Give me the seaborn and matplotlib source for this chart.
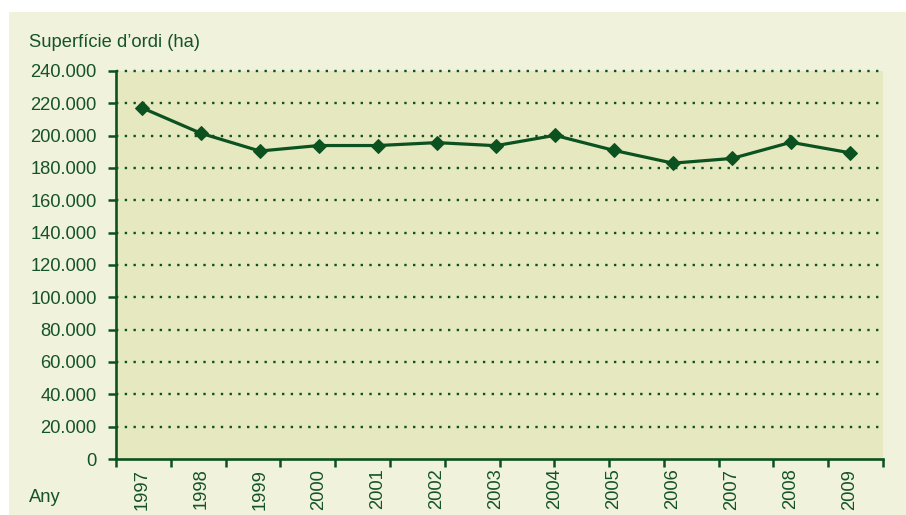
import matplotlib
matplotlib.use("Agg")
import matplotlib.pyplot as plt
import seaborn as sns
import pandas as pd
import numpy as np
from matplotlib.patches import Rectangle
from matplotlib.ticker import FixedLocator

years = [1997, 1998, 1999, 2000, 2001, 2002, 2003, 2004, 2005, 2006, 2007, 2008, 2009]
area_ha = [217300, 201500, 190500, 193900, 193900, 195700, 193800, 200200, 190900, 183000, 185900, 195900, 189400]
y_ticks = [0, 20000, 40000, 60000, 80000, 100000, 120000, 140000, 160000, 180000, 200000, 220000, 240000]
y_tick_labels = ["0", "20.000", "40.000", "60.000", "80.000", "100.000", "120.000", "140.000",
                 "160.000", "180.000", "200.000", "220.000", "240.000"]
y_title = "Superfície d\u2019ordi (ha)"
x_title = "Any"

GREEN = "#0b5220"
TEXT = "#145426"
CREAM = "#f1f2dc"
PLOT_BG = "#e6e9bf"
FS = 13.2

sns.set_theme(style="white")
plt.rcParams["font.family"] = ["Liberation Sans", "DejaVu Sans"]

W, H = 906, 515
fig = plt.figure(figsize=(W / 100, H / 100), dpi=100, facecolor="white")
bg = Rectangle((9 / W, 0), 1 - 9 / W, (H - 12) / H, transform=fig.transFigure,
               facecolor=CREAM, edgecolor="none", zorder=-10)
fig.add_artist(bg)

left, right, top, bottom = 116, 883, 71, 459
ax = fig.add_axes([left / W, (H - bottom) / H, (right - left) / W, (bottom - top) / H])
ax.set_zorder(1)
ax.set_facecolor(PLOT_BG)

df = pd.DataFrame({"Any": years, "ha": area_ha})
sns.lineplot(data=df, x="Any", y="ha", ax=ax, color=GREEN, linewidth=2.3, marker="D",
             markersize=7, markeredgecolor=GREEN, markerfacecolor=GREEN, zorder=5)

x0, x1 = years[0] - 0.436, years[-1] + 0.559
ax.set_xlim(x0, x1)
ax.set_ylim(y_ticks[0], y_ticks[-1])

for v in y_ticks[1:]:
    ax.axhline(v, color=GREEN, linewidth=1.7, linestyle=(0, (1, 2.7)), clip_on=False, zorder=2)

ax.set_yticks(y_ticks)
ax.set_yticklabels(y_tick_labels)
ax.set_xticks(years)
ax.set_xticklabels([str(y) for y in years], rotation=90)
ax.xaxis.set_minor_locator(FixedLocator(np.linspace(x0, x1, len(years) + 2)))

ax.tick_params(axis="y", which="major", length=6, width=1.8, color=GREEN, direction="out",
               labelsize=FS, labelcolor=TEXT, pad=8, left=True)
ax.tick_params(axis="x", which="major", length=0, labelsize=FS, labelcolor=TEXT, pad=7, bottom=True)
ax.tick_params(axis="x", which="minor", length=6, width=1.8, color=GREEN, direction="out", bottom=True)

for s in ["top", "right"]:
    ax.spines[s].set_visible(False)
for s in ["left", "bottom"]:
    ax.spines[s].set_color(GREEN)
    ax.spines[s].set_linewidth(1.9)
    ax.spines[s].set_zorder(6)

ax.set_xlabel("")
ax.set_ylabel("")

fig.text(29 / W, 1 - 47 / H, y_title, fontsize=FS, color=TEXT, ha="left", va="baseline")
fig.text(29 / W, 1 - 502 / H, x_title, fontsize=FS, color=TEXT, ha="left", va="baseline")

fig.savefig("out.png", dpi=100, facecolor="white")
